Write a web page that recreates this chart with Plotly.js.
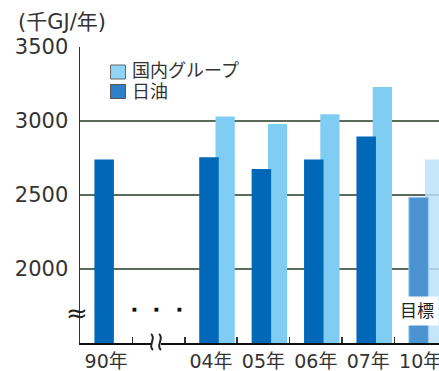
<!DOCTYPE html>
<html>
<head>
<meta charset="utf-8">
<script src="https://cdn.plot.ly/plotly-3.0.1.min.js"></script>
<style>
  html, body { margin: 0; padding: 0; background: #fff; }
  #chart { width: 439px; height: 371px; }
</style>
</head>
<body>
<div id="chart"></div>
<script>
// Energy use (thousand GJ per year): NOF Corporation vs. domestic group
const categories = ["90年", " ", "04年", "05年", "06年", "07年", "10年"];
const nichiyuYears = ["90年", "04年", "05年", "06年", "07年", "10年"];
const nichiyuValues = [2740, 2755, 2675, 2740, 2895, 2485];
const groupYears = ["04年", "05年", "06年", "07年", "10年"];
const groupValues = [3030, 2980, 3045, 3230, 2740];
const yTickValues = [2000, 2500, 3000, 3500];
const seriesNames = ["国内グループ", "日油"];
const unitLabel = "(千GJ/年)";
const targetLabel = "目標";

const FONT = "DejaVu Sans, Noto Sans CJK JP, sans-serif";
const W = 439, H = 371;
const M = { l: 80, r: 0, t: 47, b: 28 };
const PW = W - M.l - M.r, PH = H - M.t - M.b;
// pixel -> paper helpers for decorations
const px = v => (v - M.l) / PW;
const py = v => (H - M.b - v) / PH;
const pt = (x, y) => px(x).toFixed(5) + "," + py(y).toFixed(5);

const DARK = "#0068b7", LIGHT = "#80cdf3";
const TARGET_DARK = "#4a92d0", TARGET_LIGHT = "#bbe0f7";

const lastDark = nichiyuYears.length - 1;
const lastLight = groupYears.length - 1;

const groupTrace = {
  type: "bar",
  x: groupYears,
  y: groupValues,
  offset: 0.085,
  width: 0.368,
  showlegend: false,
  hoverinfo: "skip",
  marker: {
    color: groupYears.map((_, i) => i === lastLight ? TARGET_LIGHT : LIGHT),
    opacity: groupYears.map((_, i) => i === lastLight ? 0.85 : 1),
    line: { width: 0 }
  }
};

const nichiyuTrace = {
  type: "bar",
  x: nichiyuYears,
  y: nichiyuValues,
  offset: -0.225,
  width: 0.372,
  showlegend: false,
  hoverinfo: "skip",
  marker: {
    color: nichiyuYears.map((_, i) => i === lastDark ? TARGET_DARK : DARK),
    line: {
      color: nichiyuYears.map((_, i) => i === lastDark ? "#9fcdf0" : DARK),
      width: nichiyuYears.map((_, i) => i === lastDark ? 1 : 0)
    }
  }
};

const annotations = [
  { text: unitLabel, xref: "paper", yref: "paper", x: px(16), y: py(22), xanchor: "left", yanchor: "middle",
    showarrow: false, font: { family: FONT, size: 21, color: "#333" } },
  { text: seriesNames[0], xref: "paper", yref: "paper", x: px(130), y: py(71), xanchor: "left", yanchor: "middle",
    showarrow: false, font: { family: FONT, size: 18, color: "#333" } },
  { text: seriesNames[1], xref: "paper", yref: "paper", x: px(130), y: py(91), xanchor: "left", yanchor: "middle",
    showarrow: false, font: { family: FONT, size: 18, color: "#333" } },
  { text: targetLabel, xref: "paper", yref: "paper", x: px(417), y: py(310.5), xanchor: "center", yanchor: "middle",
    showarrow: false, bgcolor: "#ffffff", borderpad: 4, font: { family: FONT, size: 17, color: "#222" } },
  // y-axis break mark
  { text: "≈", xref: "paper", yref: "paper", x: px(77), y: py(313), xanchor: "center", yanchor: "middle",
    showarrow: false, font: { family: FONT, size: 26, color: "#222" } }
];
// omitted-years dots
[134, 156.7, 179.3].forEach(x => annotations.push({
  text: "■", xref: "paper", yref: "paper", x: px(x), y: py(309), xanchor: "center", yanchor: "middle",
  showarrow: false, font: { family: FONT, size: 5, color: "#111" }
}));

// vertical wavy stroke for the x-axis break
const wave = x => "M" + pt(x - 1, 334) + " C" + pt(x + 5, 338) + " " + pt(x - 5, 346) + " " + pt(x + 1, 350);

const shapes = [
  { type: "rect", xref: "paper", yref: "paper", x0: px(110.5), x1: px(125.5), y0: py(79), y1: py(65),
    fillcolor: "#8fd3f5", line: { color: "#666", width: 1 } },
  { type: "rect", xref: "paper", yref: "paper", x0: px(110.5), x1: px(125.5), y0: py(98.5), y1: py(84.5),
    fillcolor: "#2d7fc8", line: { color: "#555", width: 1 } },
  // x-axis break: gap in the axis line plus two wavy strokes
  { type: "rect", xref: "paper", yref: "paper", x0: px(151), x1: px(161), y0: py(346), y1: py(340),
    fillcolor: "#ffffff", line: { width: 0 } },
  { type: "path", xref: "paper", yref: "paper", path: wave(152), line: { color: "#222", width: 2 } },
  { type: "path", xref: "paper", yref: "paper", path: wave(160), line: { color: "#222", width: 2 } }
];

const layout = {
  width: W, height: H,
  margin: M,
  paper_bgcolor: "#fff", plot_bgcolor: "#fff",
  barmode: "overlay",
  showlegend: false,
  font: { family: FONT, color: "#333" },
  xaxis: {
    type: "category",
    categoryorder: "array",
    categoryarray: categories,
    range: [-0.5, 6.35],
    tickson: "boundaries",
    tickangle: 0,
    ticks: "inside", ticklen: 6, tickwidth: 1.5, tickcolor: "#333",
    showline: true, linecolor: "#111", linewidth: 2,
    showgrid: false, zeroline: false,
    tickfont: { family: FONT, size: 19, color: "#333" },
    ticklabelstandoff: 0,
    fixedrange: true
  },
  yaxis: {
    range: [1500, 3500],
    tickmode: "array",
    tickvals: yTickValues,
    ticktext: yTickValues.map(String),
    ticks: "",
    showline: true, linecolor: "#333", linewidth: 1.5,
    showgrid: true, gridcolor: "#5a6b5a", gridwidth: 2,
    zeroline: false,
    tickfont: { family: FONT, size: 21, color: "#333" },
    ticklabelstandoff: 6,
    fixedrange: true
  },
  annotations: annotations,
  shapes: shapes
};

Plotly.newPlot("chart", [groupTrace, nichiyuTrace], layout, { staticPlot: true, displayModeBar: false });
</script>
</body>
</html>
